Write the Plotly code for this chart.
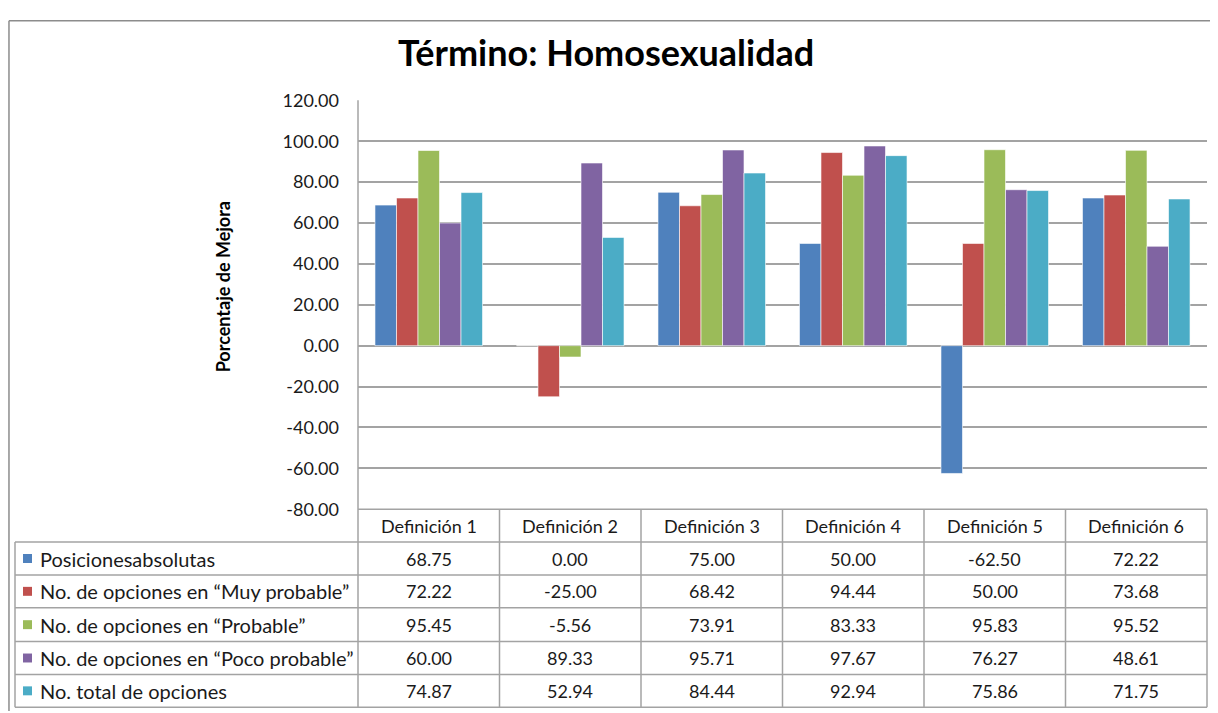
import plotly.graph_objects as go

# ---------------- data ----------------
categories = ["Definición 1", "Definición 2", "Definición 3",
              "Definición 4", "Definición 5", "Definición 6"]
series_names = ["Posicionesabsolutas",
                "No. de opciones en “Muy probable”",
                "No. de opciones en “Probable”",
                "No. de opciones en “Poco probable”",
                "No. total de opciones"]
posiciones_absolutas = [68.75, 0.00, 75.00, 50.00, -62.50, 72.22]
muy_probable = [72.22, -25.00, 68.42, 94.44, 50.00, 73.68]
probable = [95.45, -5.56, 73.91, 83.33, 95.83, 95.52]
poco_probable = [60.00, 89.33, 95.71, 97.67, 76.27, 48.61]
total_opciones = [74.87, 52.94, 84.44, 92.94, 75.86, 71.75]
y_ticks = [-80, -60, -40, -20, 0, 20, 40, 60, 80, 100, 120]

title_text = "Término: Homosexualidad"
y_title = "Porcentaje de Mejora"

series_values = [posiciones_absolutas, muy_probable, probable,
                 poco_probable, total_opciones]
colors = ["#4F81BD", "#C0504D", "#9BBB59", "#8064A2", "#4BACC6"]

# ---------------- layout geometry (screen pixels of the target) ----------------
W, H = 1218, 713
PL, PR, PT, PB = 358, 1207, 99, 510
ROWS = [510, 543, 576, 609, 643, 676, 709]
TABLE_L = 15
GRID = "#A3A3A3"
FONT = "Lato"
TXT = "#1a1a1a"

# the page shows the figure offset/scaled; map target screen px -> paper fraction
OX, OY, SY = 8.0, 18.3, 0.974


def px(x):
    return (x - OX) / W


def py(y):
    return 1 - (y - OY) / (SY * H)


fig = go.Figure()
for name, vals, col in zip(series_names, series_values, colors):
    fig.add_trace(go.Bar(
        x=categories, y=vals, name=name,
        marker=dict(color=col, line=dict(color="rgba(255,255,255,0.6)", width=1)),
    ))

shapes = []
annotations = []

# outer chart border (left and top visible)
shapes.append(dict(type="line", xref="paper", yref="paper",
                   x0=0.0008, x1=0.0008, y0=0.999, y1=0,
                   line=dict(color="#8C8C8C", width=1.5)))
shapes.append(dict(type="line", xref="paper", yref="paper",
                   x0=0.0008, x1=1, y0=0.999, y1=0.999,
                   line=dict(color="#8C8C8C", width=1.5)))

# vertical axis line extending through the table
shapes.append(dict(type="line", xref="paper", yref="paper",
                   x0=px(PL), x1=px(PL), y0=py(PT), y1=py(ROWS[-1]),
                   line=dict(color=GRID, width=1.5)))
# table: vertical column separators
n = len(categories)
for k in range(1, n + 1):
    xv = PL + k * (PR - PL) / n
    shapes.append(dict(type="line", xref="paper", yref="paper",
                       x0=px(xv), x1=px(xv), y0=py(ROWS[0]), y1=py(ROWS[-1]),
                       line=dict(color=GRID, width=1.5)))
shapes.append(dict(type="line", xref="paper", yref="paper",
                   x0=px(TABLE_L), x1=px(TABLE_L), y0=py(ROWS[1]), y1=py(ROWS[-1]),
                   line=dict(color=GRID, width=1.5)))
# table: horizontal lines
shapes.append(dict(type="line", xref="paper", yref="paper",
                   x0=px(PL), x1=px(PR), y0=py(ROWS[0]), y1=py(ROWS[0]),
                   line=dict(color=GRID, width=1.5)))
for r in ROWS[1:]:
    shapes.append(dict(type="line", xref="paper", yref="paper",
                       x0=px(TABLE_L), x1=px(PR), y0=py(r), y1=py(r),
                       line=dict(color=GRID, width=1.5)))

# header row
hy = (ROWS[0] + ROWS[1]) / 2
for cat in categories:
    annotations.append(dict(x=cat, xref="x", y=py(hy), yref="paper",
                            text=cat, showarrow=False,
                            font=dict(family=FONT, size=18, color=TXT),
                            xanchor="center", yanchor="middle"))

# data rows with legend keys
for i, (name, vals, col) in enumerate(zip(series_names, series_values, colors)):
    cy = (ROWS[i + 1] + ROWS[i + 2]) / 2
    shapes.append(dict(type="rect", xref="paper", yref="paper",
                       x0=px(23), x1=px(32), y0=py(cy - 4.5), y1=py(cy + 4.5),
                       fillcolor=col, line=dict(width=0)))
    annotations.append(dict(x=px(38), xref="paper", y=py(cy), yref="paper",
                            text=name, showarrow=False,
                            font=dict(family=FONT, size=20, color=TXT),
                            xanchor="left", yanchor="middle"))
    for cat, v in zip(categories, vals):
        annotations.append(dict(x=cat, xref="x", y=py(cy), yref="paper",
                                text=f"{v:.2f}", showarrow=False,
                                font=dict(family=FONT, size=18, color=TXT),
                                xanchor="center", yanchor="middle"))

# title and y-axis title
annotations.append(dict(x=px(606), y=py(50), xref="paper", yref="paper",
                        text=f"<b>{title_text}</b>", showarrow=False,
                        font=dict(family=FONT, size=36, color="#000000"),
                        xanchor="center", yanchor="middle"))
annotations.append(dict(x=px(223), y=py(287), xref="paper", yref="paper",
                        text=f"<b>{y_title}</b>", showarrow=False, textangle=-90,
                        font=dict(family=FONT, size=18, color="#000000"),
                        xanchor="center", yanchor="middle"))

fig.update_layout(
    width=W, height=H,
    margin=dict(l=0, r=0, t=0, b=0),
    paper_bgcolor="white", plot_bgcolor="white",
    barmode="group", bargap=0.24, bargroupgap=0,
    showlegend=False,
    xaxis=dict(domain=[px(PL), px(PR)], range=[-0.5, n - 0.5],
               showticklabels=False, showgrid=False, zeroline=False,
               showline=False, ticks=""),
    yaxis=dict(domain=[py(PB), py(PT)], range=[-80, 120],
               tickvals=y_ticks, ticktext=[f"{v:.2f}" for v in y_ticks],
               showgrid=True, gridcolor=GRID, gridwidth=1.5,
               zeroline=False, showline=False, ticks="",
               ticklabelstandoff=18,
               tickfont=dict(family=FONT, size=18, color=TXT)),
    shapes=shapes,
    annotations=annotations,
)

fig.write_html("out.html")
